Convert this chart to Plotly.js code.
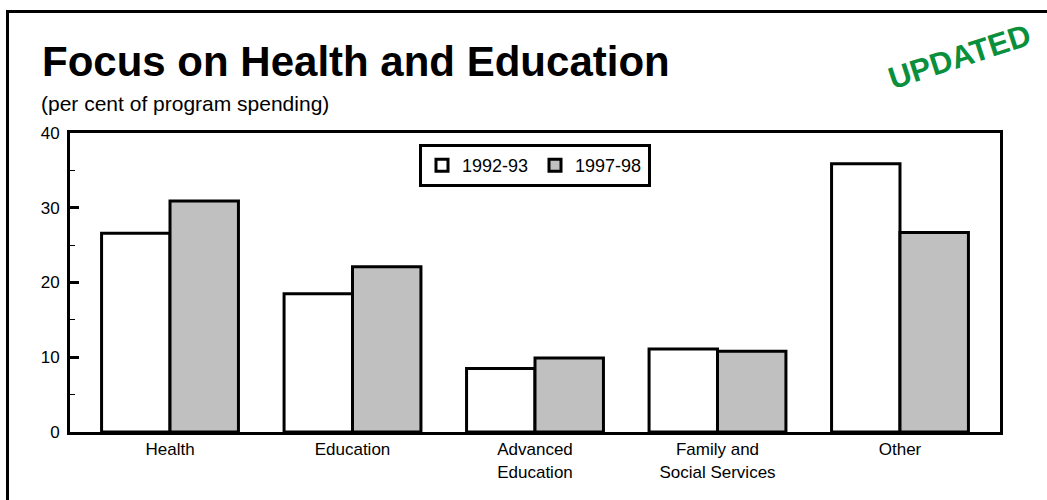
<!DOCTYPE html>
<html>
<head>
<meta charset="utf-8">
<script src="https://cdn.plot.ly/plotly-3.0.1.min.js"></script>
<style>
  html, body { margin: 0; padding: 0; background: #fff; }
  #chart { width: 1047px; height: 500px; }
</style>
</head>
<body>
<div id="chart"></div>
<script>
const categories = ["Health", "Education", "Advanced<br>Education", "Family and<br>Social Services", "Other"];
const series1Name = "1992-93";
const series2Name = "1997-98";
const values1992 = [26.6, 18.5, 8.5, 11.1, 35.9];
const values1997 = [30.9, 22.1, 9.9, 10.8, 26.7];
const yTickValues = [0, 10, 20, 30, 40];

const W = 1047, H = 500;
const ML = 70, MR = 47, MT = 133, MB = 68;
const PW = W - ML - MR, PH = H - MT - MB;
const px = x => (x - ML) / PW;
const py = y => (H - MB - y) / PH;

const font = 'Arial, "Liberation Sans", Helvetica, sans-serif';

const traces = [
  {
    type: 'bar', name: series1Name, x: categories, y: values1992,
    marker: { color: '#ffffff', line: { color: '#000000', width: 3 } },
    hoverinfo: 'skip'
  },
  {
    type: 'bar', name: series2Name, x: categories, y: values1997,
    marker: { color: '#c0c0c0', line: { color: '#000000', width: 3 } },
    hoverinfo: 'skip'
  }
];

const layout = {
  width: W, height: H,
  margin: { l: ML, r: MR, t: MT, b: MB, pad: 0 },
  paper_bgcolor: '#ffffff', plot_bgcolor: '#ffffff',
  font: { family: font, color: '#000000', size: 17 },
  barmode: 'group', bargap: 0.25, bargroupgap: 0,
  showlegend: true,
  legend: {
    orientation: 'h', x: 0.5, xanchor: 'center', y: py(144), yanchor: 'top',
    bordercolor: '#000000', borderwidth: 3, bgcolor: '#ffffff',
    font: { family: font, size: 18, color: '#000000' },
    itemwidth: 30, entrywidth: 68, entrywidthmode: 'pixels', traceorder: 'normal'
  },
  xaxis: {
    type: 'category', range: [-0.548, 4.548],
    showline: true, mirror: true, linewidth: 3, linecolor: '#000000',
    ticks: '', showgrid: false, zeroline: false,
    tickfont: { family: font, size: 17, color: '#000000' }
  },
  yaxis: {
    range: [0, 40], tickvals: yTickValues, ticktext: yTickValues.map(String),
    showline: true, mirror: true, linewidth: 3, linecolor: '#000000',
    ticks: 'inside', ticklen: 9, tickwidth: 3, tickcolor: '#000000',
    minor: { dtick: 5, ticks: 'inside', ticklen: 5, tickwidth: 1, tickcolor: '#000000', showgrid: false },
    showgrid: false, zeroline: false,
    tickfont: { family: font, size: 17, color: '#000000' },
    ticklabelstandoff: 4
  },
  shapes: [
    { type: 'line', xref: 'paper', yref: 'paper', x0: px(7.5), x1: px(7.5), y0: py(11.5), y1: py(520),
      line: { color: '#000000', width: 3 } },
    { type: 'line', xref: 'paper', yref: 'paper', x0: px(6), x1: px(1060), y0: py(11.5), y1: py(11.5),
      line: { color: '#000000', width: 3 } }
  ],
  annotations: [
    { xref: 'paper', yref: 'paper', x: px(40), y: py(62), xanchor: 'left', yanchor: 'middle',
      text: '<b>Focus on Health and Education</b>', showarrow: false,
      font: { family: font, size: 42, color: '#000000' } },
    { xref: 'paper', yref: 'paper', x: px(39), y: py(103), xanchor: 'left', yanchor: 'middle',
      text: '(per cent of program spending)', showarrow: false,
      font: { family: font, size: 21, color: '#000000' } },
    { xref: 'paper', yref: 'paper', x: px(960), y: py(57), xanchor: 'center', yanchor: 'middle',
      text: '<b>UPDATED</b>', showarrow: false, textangle: -18,
      font: { family: font, size: 31, color: '#0a8f3c' } }
  ]
};

Plotly.newPlot('chart', traces, layout, { displayModeBar: false, staticPlot: true });
</script>
</body>
</html>
